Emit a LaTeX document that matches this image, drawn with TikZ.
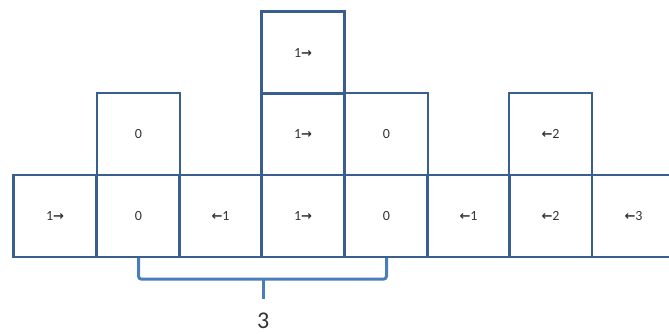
\documentclass[tikz,border=0pt]{standalone}
\usepackage{fontspec}
\setmainfont{Carlito}
\newfontfamily\arrowfont{DejaVu Sans}
\newcommand{\ra}{{\arrowfont\bfseries\fontsize{13}{15}\selectfont →}}
\newcommand{\la}{{\arrowfont\bfseries\fontsize{13}{15}\selectfont ←}}
\definecolor{boxblue}{HTML}{3A5F8F}
\definecolor{braceblue}{HTML}{4A7EBB}
\begin{document}
\begin{tikzpicture}[x=1pt,y=-1pt,
  cell/.style={draw=boxblue,line width=2.3pt,minimum width=83pt,minimum height=82pt,
    inner sep=0pt,font=\fontsize{14}{16}\selectfont,text=black!80},
  bracket/.style={draw=braceblue,line width=3pt,rounded corners=3pt}]
\useasboundingbox (0,0) rectangle (669,334);
% bottom row
\node[cell] (c1) at (55,216) {1\ra};
\node[cell] (c2) at (138.5,216) {0};
\node[cell] (c3) at (220.5,216) {\la1};
\node[cell] (c4) at (303,216) {1\ra};
\node[cell] (c5) at (386.5,216) {0};
\node[cell] (c6) at (468.5,216) {\la1};
\node[cell] (c7) at (550.5,216) {\la2};
\node[cell] (c8) at (633.5,216) {\la3};
% middle row
\node[cell] (m2) at (138.5,134) {0};
\node[cell] (m4) at (303,134) {1\ra};
\node[cell] (m5) at (386.5,134) {0};
\node[cell] (m7) at (550.5,134) {\la2};
% top row
\node[cell] (t4) at (303,52.5) {1\ra};
% bracket spanning three cells
\coordinate (tip) at ([yshift=-41pt]c3.south east);
\draw[bracket] (c2.south) -- ++(0,21) -| (c5.south);
\draw[bracket] ([yshift=-20pt]c3.south east) -- (tip);
\node[font=\fontsize{24}{28}\selectfont,text=black!80,anchor=north] (lbl) at ([yshift=-10pt]tip) {3};
\end{tikzpicture}
\end{document}
